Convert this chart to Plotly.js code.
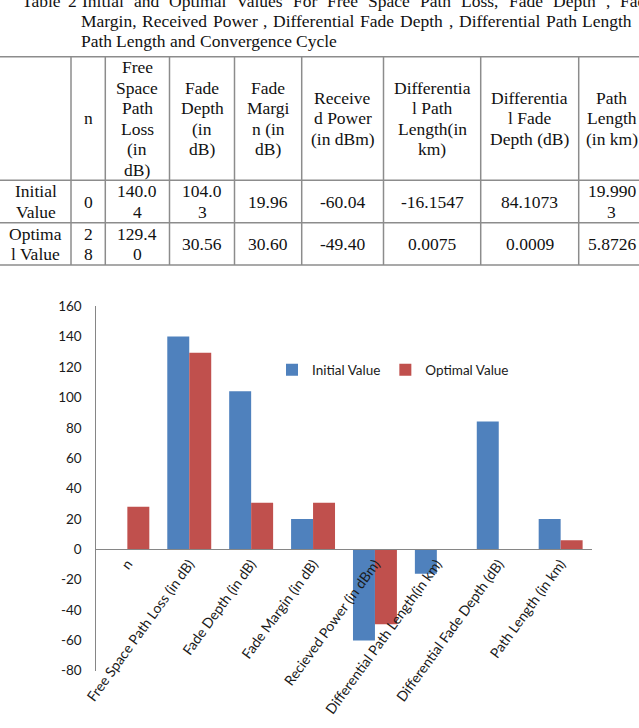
<!DOCTYPE html>
<html>
<head>
<meta charset="utf-8">
<script src="https://cdn.plot.ly/plotly-3.0.1.min.js"></script>
<style>
  html, body { margin: 0; padding: 0; background: #fff; overflow: hidden; }
  #chart { width: 639px; height: 728px; }
</style>
</head>
<body>
<div id="chart"></div>
<script>
// ---- data ----
const categories = [
  "n",
  "Free Space Path Loss (in dB)",
  "Fade Depth (in dB)",
  "Fade Margin (in dB)",
  "Recieved Power (in dBm)",
  "Differential Path Length(in km)",
  "Differential Fade Depth (dB)",
  "Path Length (in km)"
];
const initialValues = [0, 140.04, 104.03, 19.96, -60.04, -16.1547, 84.1073, 19.9903];
const optimalValues = [28, 129.40, 30.56, 30.60, -49.40, 0.0075, 0.0009, 5.8726];
const seriesNames = ["Initial Value", "Optimal Value"];
const valueDecimals = [0, 2, 2, 2, 2, 4, 4, 4];
const yTickValues = [-80, -60, -40, -20, 0, 20, 40, 60, 80, 100, 120, 140, 160];
const yTickLabels = ["-80", "-60", "-40", "-20", "0", "20", "40", "60", "80", "100", "120", "140", "160"];

const captionLead = ["Table", "2"];
const captionLine1 = "Initial and Optimal Values For Free Space Path Loss, Fade Depth , Fade";
const captionLine2 = "Margin, Received Power , Differential Fade Depth , Differential Path Length";
const captionLine3 = "Path Length and Convergence Cycle";

const headerLines = [
  [],
  ["n"],
  ["Free", "Space", "Path", "Loss", "(in", "dB)"],
  ["Fade", "Depth", "(in", "dB)"],
  ["Fade", "Margi", "n (in", "dB)"],
  ["Receive", "d Power", "(in dBm)"],
  ["Differentia", "l Path", "Length(in", "km)"],
  ["Differentia", "l Fade", "Depth (dB)"],
  ["Path", "Length", "(in km)"]
];
const rowLabels = [["Initial", "Value"], ["Optima", "l Value"]];

// ---- page geometry (px) ----
const W = 639, H = 728;
const colEdges = [0, 71, 105.3, 169.5, 234.5, 301.7, 383.5, 480.7, 578.7, 645];
const colWrap = [1, 5, 5, 99, 99, 99, 99, 6];   // characters per line in each value column
const rowEdges = [56.7, 180.3, 222.7, 265];
const lineStep = 20.5;
const serif = "Liberation Serif";
const serifSize = 17.5;
const sans = "Lato";

const plotBox = { left: 96.4, right: 591.6, top: 306.3, bottom: 670.7 };
const yMin = -80, yMax = 160;

const fx = p => p / W;
const fy = p => 1 - p / H;

const annotations = [];
const shapes = [];

function textAt(text, xPx, yPx, xanchor, font) {
  annotations.push({
    xref: "paper", yref: "paper", x: fx(xPx), y: fy(yPx),
    text: text, showarrow: false, xanchor: xanchor, yanchor: "middle",
    font: font || { family: serif, size: serifSize, color: "#111" }
  });
}

// cell text: each line placed separately so the leading stays tight
function cellText(lines, col, row) {
  const cx = (colEdges[col] + colEdges[col + 1]) / 2;
  const cy = (rowEdges[row] + rowEdges[row + 1]) / 2;
  lines.forEach((ln, i) => {
    textAt(ln, cx, cy + (i - (lines.length - 1) / 2) * lineStep, "center");
  });
}

function wrapValue(v, dec, width) {
  const s = v.toFixed(dec);
  const out = [];
  for (let i = 0; i < s.length; i += width) out.push(s.slice(i, i + width));
  return out;
}

// ---- caption, justified word by word ----
const ctx = document.createElement("canvas").getContext("2d");
ctx.font = serifSize + 'px "' + serif + '"';
const measure = s => ctx.measureText(s).width;

function placeWords(line, left, right, yPx) {
  const words = line.split(" ");
  let gap;
  if (right == null) {
    gap = measure(" ");
  } else {
    const total = words.reduce((a, w) => a + measure(w), 0);
    gap = (right - left - total) / (words.length - 1);
  }
  let x = left;
  words.forEach(w => {
    textAt(w, x - 2, yPx, "left");
    x += measure(w) + gap;
  });
}

textAt(captionLead[0], 20, 1, "left");
textAt(captionLead[1], 66, 1, "left");
placeWords(captionLine1, 82, 620 + measure("Fade"), 1);
placeWords(captionLine2, 81, 632, 20.5);
placeWords(captionLine3, 81, null, 41);

// ---- table ----
const gridLine = { color: "#8c8c8c", width: 1.5 };
rowEdges.forEach(y => shapes.push({
  type: "line", xref: "paper", yref: "paper",
  x0: 0, x1: 1, y0: fy(y), y1: fy(y), line: gridLine
}));
colEdges.slice(1, -1).forEach(x => shapes.push({
  type: "line", xref: "paper", yref: "paper",
  x0: fx(x), x1: fx(x), y0: fy(rowEdges[0]), y1: fy(rowEdges[rowEdges.length - 1]), line: gridLine
}));

headerLines.forEach((lines, c) => cellText(lines, c, 0));
rowLabels.forEach((lines, r) => cellText(lines, 0, r + 1));
[initialValues, optimalValues].forEach((vals, r) => {
  vals.forEach((v, i) => cellText(wrapValue(v, valueDecimals[i], colWrap[i]), i + 1, r + 1));
});

// ---- bar chart ----
const yDomain = [fy(plotBox.bottom), fy(plotBox.top)];
const zeroPos = yDomain[0] + (0 - yMin) / (yMax - yMin) * (yDomain[1] - yDomain[0]);

const traces = [
  { type: "bar", name: seriesNames[0], x: categories, y: initialValues,
    marker: { color: "#4F81BD" }, hoverinfo: "x+y" },
  { type: "bar", name: seriesNames[1], x: categories, y: optimalValues,
    marker: { color: "#C0504D" }, hoverinfo: "x+y" }
];

const axisFont = { family: sans, size: 13.5, color: "#1a1a1a" };

const layout = {
  width: W, height: H,
  margin: { l: 0, r: 0, t: 0, b: 0 },
  paper_bgcolor: "#fff", plot_bgcolor: "rgba(0,0,0,0)",
  barmode: "group", bargap: 0.29, bargroupgap: 0,
  showlegend: true,
  legend: {
    orientation: "h", x: fx(272), y: fy(370), xanchor: "left", yanchor: "middle",
    font: { family: sans, size: 13.5, color: "#1a1a1a" }, bgcolor: "rgba(0,0,0,0)"
  },
  xaxis: {
    domain: [fx(plotBox.left), fx(plotBox.right)],
    type: "category", anchor: "free", position: zeroPos,
    showline: true, linecolor: "#868686", linewidth: 1,
    showgrid: false, zeroline: false, ticks: "",
    tickangle: -54, tickfont: { family: sans, size: 14, color: "#1a1a1a" }, automargin: false
  },
  yaxis: {
    domain: yDomain, range: [yMin, yMax],
    tickmode: "array", tickvals: yTickValues, ticktext: yTickLabels,
    showline: true, linecolor: "#868686", linewidth: 1,
    showgrid: false, zeroline: false, ticks: "",
    ticklabelstandoff: 11, tickfont: axisFont, automargin: false
  },
  annotations: annotations,
  shapes: shapes
};

Plotly.newPlot("chart", traces, layout, { displayModeBar: false, staticPlot: true });
</script>
</body>
</html>
